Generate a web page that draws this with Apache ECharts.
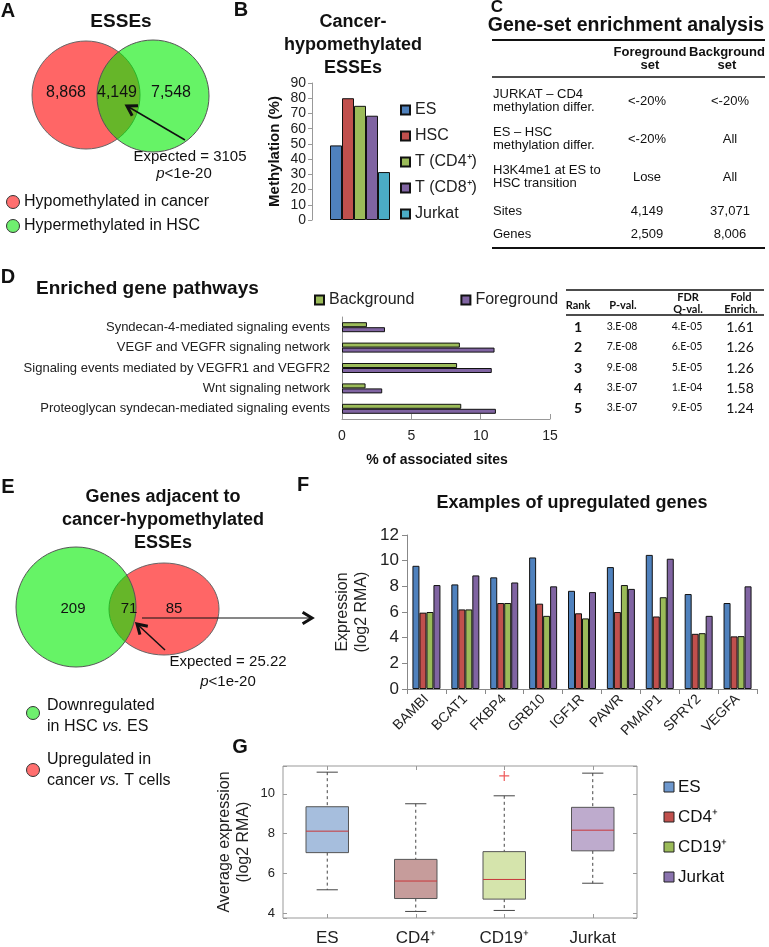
<!DOCTYPE html>
<html>
<head>
<meta charset="utf-8">
<script src="https://cdn.jsdelivr.net/npm/echarts@6/dist/echarts.min.js"></script>
<style>
  html, body { margin: 0; padding: 0; background: #fff; }
  #chart { width: 769px; height: 947px; }
</style>
</head>
<body>
<div id="chart"></div>
<script>
// ---- A: ESSE venn
const vennACounts = ['8,868', '4,149', '7,548'];
const vennALegend = ['Hypomethylated in cancer', 'Hypermethylated in HSC'];

// ---- B: methylation of cancer-hypomethylated ESSEs
const methylGroups = ['ES', 'HSC', 'T (CD4\u207A)', 'T (CD8\u207A)', 'Jurkat'];
const methylValues = [49, 80, 75, 68.5, 31.5];

// ---- C: gene-set enrichment table
const gseaRows = ['JURKAT \u2013 CD4\nmethylation differ.', 'ES \u2013 HSC\nmethylation differ.', 'H3K4me1 at ES to\nHSC transition', 'Sites', 'Genes'];
const gseaForeground = ['<-20%', '<-20%', 'Lose', '4,149', '2,509'];
const gseaBackground = ['<-20%', 'All', 'All', '37,071', '8,006'];

// ---- D: enriched pathways
const pathways = [
  'Syndecan-4-mediated signaling events',
  'VEGF and VEGFR signaling network',
  'Signaling events mediated by VEGFR1 and VEGFR2',
  'Wnt signaling network',
  'Proteoglycan syndecan-mediated signaling events'
];
const pathBackground = [1.8, 8.5, 8.3, 1.7, 8.6];
const pathForeground = [3.1, 11.0, 10.8, 2.9, 11.1];
const pathPval = ['3.E-08', '7.E-08', '9.E-08', '3.E-07', '3.E-07'];
const pathQval = ['4.E-05', '6.E-05', '5.E-05', '1.E-04', '9.E-05'];
const pathFold = ['1.61', '1.26', '1.26', '1.58', '1.24'];

// ---- E: genes venn
const vennECounts = ['209', '71', '85'];

// ---- F: upregulated genes
const genes = ['BAMBI', 'BCAT1', 'FKBP4', 'GRB10', 'IGF1R', 'PAWR', 'PMAIP1', 'SPRY2', 'VEGFA'];
const exprES = [9.6, 8.15, 8.7, 10.25, 7.65, 9.5, 10.45, 7.4, 6.7];
const exprCD4 = [5.95, 6.2, 6.7, 6.65, 5.9, 6.0, 5.65, 4.3, 4.1];
const exprCD19 = [6.0, 6.2, 6.7, 5.7, 5.5, 8.1, 7.15, 4.35, 4.12];
const exprJurkat = [8.1, 8.85, 8.3, 8.0, 7.55, 7.8, 10.15, 5.7, 8.0];

// ---- G: average expression boxplot  [low, q1, median, q3, high]
const boxGroups = ['ES', 'CD4\u207A', 'CD19\u207A', 'Jurkat'];
const boxStats = [
  [5.17, 7.04, 8.12, 9.35, 11.09],
  [4.08, 4.73, 5.61, 6.7, 9.5],
  [4.13, 4.7, 5.69, 7.09, 9.9],
  [5.5, 7.13, 8.17, 9.32, 11.04]
];
const boxOutliers = [[2, 10.9]];

const FONT = '"Liberation Sans", Arial, sans-serif';
const CAL = 'Lato, "Liberation Sans", sans-serif';
const officeColors = ['#4F81BD', '#C0504D', '#9BBB59', '#8064A2', '#4BACC6'];
const boxFill = ['#A6BEDD', '#C69C9B', '#D5E4AC', '#BEABCD'];
const boxLegendColors = ['#6E98CE', '#C0504D', '#9BBB59', '#8A73AE'];

const chart = echarts.init(document.getElementById('chart'), null, { renderer: 'canvas' });

// small helpers for the annotation layer
function txt(x, y, text, size, opts) {
  opts = opts || {};
  return {
    type: 'text', x: x, y: y, z: 100,
    style: {
      text: text,
      fill: opts.fill || '#111',
      font: (opts.weight || 'normal') + ' ' + (opts.style || 'normal') + ' ' + size + 'px ' + (opts.family || FONT),
      fontSize: size, fontWeight: opts.weight || 'normal', fontStyle: opts.style || 'normal',
      fontFamily: opts.family || FONT,
      textAlign: opts.align || 'left', align: opts.align || 'left',
      textVerticalAlign: 'middle', verticalAlign: 'middle',
      lineHeight: opts.lh || Math.round(size * 1.2)
    }
  };
}
function ln(x1, y1, x2, y2, w, col) {
  return { type: 'line', z: 100, shape: { x1: x1, y1: y1, x2: x2, y2: y2 }, style: { stroke: col || '#111', lineWidth: w || 1 } };
}
function arrow(x1, y1, x2, y2, w) {
  const a = Math.atan2(y2 - y1, x2 - x1), L = 11, s = 0.55;
  return [
    ln(x1, y1, x2, y2, w || 1.5),
    { type: 'polyline', z: 100, shape: { points: [
      [x2 - L * Math.cos(a - s), y2 - L * Math.sin(a - s)], [x2, y2],
      [x2 - L * Math.cos(a + s), y2 - L * Math.sin(a + s)]] },
      style: { stroke: '#111', lineWidth: 3, fill: null } }
  ];
}
function venn(red, green) {
  return [
    { type: 'ellipse', z: 10, shape: red, style: { fill: '#FF6666', stroke: '#666', lineWidth: 1 } },
    { type: 'ellipse', z: 11, shape: green, style: { fill: 'rgba(0,235,0,0.6)', stroke: '#555', lineWidth: 1 } }
  ];
}
function dot(x, y, col) {
  return { type: 'circle', z: 100, shape: { cx: x, cy: y, r: 6.5 }, style: { fill: col, stroke: '#333', lineWidth: 1 } };
}
function pText(x, y, size) {
  return { type: 'text', x: x, y: y, z: 100, style: {
    rich: { i: { fontStyle: 'italic', fontSize: size, fontFamily: FONT }, n: { fontSize: size, fontFamily: FONT } },
    text: '{i|p}{n|<1e-20}', fill: '#111', align: 'center', textAlign: 'center', verticalAlign: 'middle', textVerticalAlign: 'middle' } };
}

const gfx = [];
// panel letters
[['A', 8, 11, 20], ['B', 241, 10, 20], ['C', 497, 7, 17], ['D', 8, 277, 20], ['E', 8, 487, 20], ['F', 303, 485, 20], ['G', 240, 747, 20]]
  .forEach(p => gfx.push(txt(p[1], p[2], p[0], p[3], { weight: 'bold', align: 'center' })));

// A
gfx.push(txt(121, 22, 'ESSEs', 19, { weight: 'bold', align: 'center' }));
gfx.push(...venn({ cx: 86, cy: 95, rx: 54, ry: 54 }, { cx: 153, cy: 96, rx: 56, ry: 56 }));
gfx.push(txt(66, 93, vennACounts[0], 16, { align: 'center' }));
gfx.push(txt(117, 93, vennACounts[1], 16, { align: 'center' }));
gfx.push(txt(171, 93, vennACounts[2], 16, { align: 'center' }));
gfx.push(...arrow(185, 140, 127, 106));
gfx.push(txt(190, 157, 'Expected = 3105', 15, { align: 'center' }));
gfx.push(pText(184, 174, 15));
gfx.push(dot(13, 202, '#FF6F6F'), txt(24, 202, vennALegend[0], 16));
gfx.push(dot(13, 226, '#6FEF6F'), txt(24, 226, vennALegend[1], 16));

// B title
gfx.push(txt(353, 45, 'Cancer-\nhypomethylated\nESSEs', 18, { weight: 'bold', align: 'center', lh: 23 }));

// C table
gfx.push(txt(626, 26, 'Gene-set enrichment analysis', 19.5, { weight: 'bold', align: 'center' }));
gfx.push(ln(492, 40, 765, 40, 2), ln(492, 77, 765, 77, 1.5), ln(492, 248, 765, 248, 2));
gfx.push(txt(650, 59, 'Foreground\nset', 13, { weight: 'bold', align: 'center', lh: 13 }));
gfx.push(txt(727, 59, 'Background\nset', 13, { weight: 'bold', align: 'center', lh: 13 }));
const gseaY = [101, 139, 177, 211, 234];
gseaRows.forEach((r, i) => {
  gfx.push(txt(493, gseaY[i], r, 13, { lh: 13 }));
  gfx.push(txt(647, gseaY[i], gseaForeground[i], 13, { align: 'center' }));
  gfx.push(txt(730, gseaY[i], gseaBackground[i], 13, { align: 'center' }));
});

// D title + rank table
gfx.push(txt(36, 289, 'Enriched gene pathways', 19, { weight: 'bold' }));
gfx.push(ln(566, 290, 764, 290, 1.5), ln(566, 315, 764, 315, 1.5));
gfx.push(txt(578, 305, 'Rank', 11, { weight: 'bold', align: 'center', family: CAL }));
gfx.push(txt(623, 305, 'P-val.', 11, { weight: 'bold', align: 'center', family: CAL }));
gfx.push(txt(688, 303, 'FDR\nQ-val.', 11, { weight: 'bold', align: 'center', family: CAL, lh: 12 }));
gfx.push(txt(741, 303, 'Fold\nEnrich.', 11, { weight: 'bold', align: 'center', family: CAL, lh: 12 }));
const rankY = [327, 347, 368, 388, 408];
pathPval.forEach((p, i) => {
  gfx.push(txt(578, rankY[i], String(i + 1), 14, { weight: 'bold', align: 'center', family: CAL }));
  gfx.push(txt(622, rankY[i], p, 10.5, { align: 'center', family: CAL }));
  gfx.push(txt(687, rankY[i], pathQval[i], 10.5, { align: 'center', family: CAL }));
  gfx.push(txt(740, rankY[i], pathFold[i], 14, { align: 'center', family: CAL }));
});

// E
gfx.push(txt(163, 520, 'Genes adjacent to\ncancer-hypomethylated\nESSEs', 18, { weight: 'bold', align: 'center', lh: 23 }));
gfx.push(...venn({ cx: 164, cy: 609, rx: 55, ry: 46 }, { cx: 76, cy: 607, rx: 60, ry: 60 }));
gfx.push(txt(73, 609, vennECounts[0], 15, { align: 'center' }));
gfx.push(txt(129, 609, vennECounts[1], 15, { align: 'center' }));
gfx.push(txt(174, 609, vennECounts[2], 15, { align: 'center' }));
gfx.push(...arrow(165, 650, 137, 624));
gfx.push(...arrow(142, 618, 312, 618, 1.2));
gfx.push(txt(228, 662, 'Expected = 25.22', 15, { align: 'center' }));
gfx.push(pText(228, 682, 15));
const richE = { i: { fontStyle: 'italic', fontSize: 16, fontFamily: FONT }, n: { fontSize: 16, fontFamily: FONT } };
gfx.push(dot(33, 713, '#6FEF6F'));
gfx.push({ type: 'text', x: 47, y: 716, z: 100, style: { rich: richE, text: '{n|Downregulated}\n{n|in HSC }{i|vs.}{n| ES}', fill: '#111', lineHeight: 21, verticalAlign: 'middle', textVerticalAlign: 'middle' } });
gfx.push(dot(33, 770, '#FF6F6F'));
gfx.push({ type: 'text', x: 47, y: 770, z: 100, style: { rich: richE, text: '{n|Upregulated in}\n{n|cancer }{i|vs.}{n| T cells}', fill: '#111', lineHeight: 21, verticalAlign: 'middle', textVerticalAlign: 'middle' } });

// F title
gfx.push(txt(572, 503, 'Examples of upregulated genes', 18, { weight: 'bold', align: 'center' }));

// G legend
boxGroups.forEach((g, i) => {
  const y = 787 + i * 30;
  gfx.push({ type: 'rect', z: 100, shape: { x: 664, y: y - 5, width: 10, height: 10 }, style: { fill: boxLegendColors[i], stroke: '#222', lineWidth: 1 } });
  gfx.push(txt(678, y, g, 17));
});

// custom box renderer for panel G
function renderBox(params, api) {
  const i = api.value(0);
  const p = k => api.coord([i, api.value(k)]);
  const lo = p(1), q1 = p(2), md = p(3), q3 = p(4), hi = p(5);
  const band = api.size([1, 0])[0];
  const bw = band * 0.48, cw = band * 0.24, cx = lo[0];
  const dash = { stroke: '#444', lineWidth: 1, lineDash: [3, 3] };
  const solid = { stroke: '#444', lineWidth: 1 };
  return { type: 'group', children: [
    { type: 'line', shape: { x1: cx, y1: hi[1], x2: cx, y2: q3[1] }, style: dash },
    { type: 'line', shape: { x1: cx, y1: q1[1], x2: cx, y2: lo[1] }, style: dash },
    { type: 'line', shape: { x1: cx - cw / 2, y1: hi[1], x2: cx + cw / 2, y2: hi[1] }, style: solid },
    { type: 'line', shape: { x1: cx - cw / 2, y1: lo[1], x2: cx + cw / 2, y2: lo[1] }, style: solid },
    { type: 'rect', shape: { x: cx - bw / 2, y: q3[1], width: bw, height: q1[1] - q3[1] }, style: { fill: boxFill[i], stroke: '#555', lineWidth: 1 } },
    { type: 'line', shape: { x1: cx - bw / 2, y1: md[1], x2: cx + bw / 2, y2: md[1] }, style: { stroke: '#C8373A', lineWidth: 1 } }
  ] };
}

const axisGray = { lineStyle: { color: '#888' } };
const lbl = (s) => ({ fontFamily: FONT, fontSize: s, color: '#222' });
const bordered = (c) => ({ color: c, borderColor: '#111', borderWidth: 1 });

const option = {
  animation: false,
  backgroundColor: '#fff',
  textStyle: { fontFamily: FONT },
  legend: [
    { data: methylGroups, orient: 'vertical', left: 395, top: 97, itemWidth: 9, itemHeight: 9, itemGap: 10,
      textStyle: lbl(16), icon: 'rect', selectedMode: false },
    { data: ['Background', 'Foreground'], left: 309, top: 287, itemWidth: 9, itemHeight: 9, itemGap: 46,
      textStyle: lbl(16), icon: 'rect', selectedMode: false }
  ],
  grid: [
    { left: 312, top: 83, width: 96, height: 137 },
    { left: 342, top: 317, width: 208, height: 102 },
    { left: 407, top: 535, width: 350, height: 154 },
    { left: 283, top: 766, width: 354, height: 162, show: true, borderColor: '#999', borderWidth: 1 }
  ],
  xAxis: [
    { gridIndex: 0, type: 'category', data: [''], show: false },
    { gridIndex: 1, type: 'value', min: 0, max: 15, interval: 5,
      axisLine: { show: true, lineStyle: { color: '#999' } }, axisTick: { show: true, inside: true, length: 5, lineStyle: { color: '#999' } },
      splitLine: { show: false }, axisLabel: Object.assign(lbl(14), { margin: 10 }),
      name: '% of associated sites', nameLocation: 'middle', nameGap: 34,
      nameTextStyle: { fontFamily: FONT, fontSize: 14, fontWeight: 'bold', color: '#111', padding: [0, 18, 0, 0] } },
    { gridIndex: 2, type: 'category', data: genes,
      axisLine: axisGray, axisTick: { show: true, length: 5, lineStyle: { color: '#888' } },
      axisLabel: Object.assign(lbl(14), { rotate: 45, margin: 8, interval: 0 }) },
    { gridIndex: 3, type: 'category', data: boxGroups, position: 'bottom',
      axisLine: { show: false }, axisTick: { show: true, inside: true, alignWithLabel: true, length: 4, lineStyle: { color: '#999' } },
      axisLabel: Object.assign(lbl(17), { margin: 12 }) },
    { gridIndex: 3, type: 'category', data: boxGroups, position: 'top',
      axisLine: { show: false }, axisTick: { show: true, inside: true, alignWithLabel: true, length: 4, lineStyle: { color: '#999' } },
      axisLabel: { show: false } }
  ],
  yAxis: [
    { gridIndex: 0, type: 'value', min: 0, max: 90, interval: 10,
      axisLine: { show: true, lineStyle: { color: '#999' } }, axisTick: { show: true, length: 4, lineStyle: { color: '#999' } },
      splitLine: { show: false }, axisLabel: Object.assign(lbl(14), { margin: 6 }),
      name: 'Methylation (%)', nameLocation: 'middle', nameGap: 30,
      nameTextStyle: { fontFamily: FONT, fontSize: 15, fontWeight: 'bold', color: '#111' } },
    { gridIndex: 1, type: 'category', data: pathways, inverse: true,
      axisLine: { show: true, lineStyle: { color: '#999' } }, axisTick: { show: false },
      axisLabel: Object.assign(lbl(13), { margin: 12 }) },
    { gridIndex: 2, type: 'value', min: 0, max: 12, interval: 2,
      axisLine: { show: true, lineStyle: { color: '#888' } }, axisTick: { show: true, length: 5, lineStyle: { color: '#888' } },
      splitLine: { show: false }, axisLabel: Object.assign(lbl(17), { margin: 8 }),
      name: 'Expression\n(log2 RMA)', nameLocation: 'middle', nameGap: 36,
      nameTextStyle: { fontFamily: FONT, fontSize: 16, color: '#222', lineHeight: 19 } },
    { gridIndex: 3, type: 'value', min: 3.75, max: 11.4,
      axisLine: { show: false }, axisTick: { show: true, inside: true, length: 4, lineStyle: { color: '#999' } },
      splitLine: { show: false },
      axisLabel: Object.assign(lbl(13), { margin: 8, formatter: v => (v % 2 === 0 ? String(v) : '') }),
      name: 'Average expression\n(log2 RMA)', nameLocation: 'middle', nameGap: 30,
      nameTextStyle: { fontFamily: FONT, fontSize: 16, color: '#222', lineHeight: 19 } },
    { gridIndex: 3, type: 'value', min: 3.75, max: 11.4, position: 'right',
      axisLine: { show: false }, axisTick: { show: true, inside: true, length: 4, lineStyle: { color: '#999' } },
      splitLine: { show: false }, axisLabel: { show: false } }
  ],
  series: [
    ...methylGroups.map((g, i) => ({
      name: g, type: 'bar', xAxisIndex: 0, yAxisIndex: 0, barWidth: 12, barGap: '0%',
      itemStyle: bordered(officeColors[i]), data: [methylValues[i]]
    })),
    { name: 'Background', type: 'bar', xAxisIndex: 1, yAxisIndex: 1, barWidth: 5, barGap: '0%',
      itemStyle: bordered('#9BBB59'), data: pathBackground },
    { name: 'Foreground', type: 'bar', xAxisIndex: 1, yAxisIndex: 1, barWidth: 5, barGap: '0%',
      itemStyle: bordered('#8064A2'), data: pathForeground },
    ...[exprES, exprCD4, exprCD19, exprJurkat].map((d, i) => ({
      name: 'expr-' + i, type: 'bar', xAxisIndex: 2, yAxisIndex: 2, barWidth: 7, barGap: '0%',
      itemStyle: bordered(officeColors[i]), data: d
    })),
    { name: 'box', type: 'custom', xAxisIndex: 3, yAxisIndex: 3, renderItem: renderBox,
      encode: { x: 0, y: [1, 2, 3, 4, 5] }, data: boxStats.map((s, i) => [i].concat(s)) },
    { name: 'outlier', type: 'scatter', xAxisIndex: 3, yAxisIndex: 3, symbol: 'path://M4.4,0h1.2v10h-1.2z M0,4.4h10v1.2h-10z',
      symbolSize: 10, itemStyle: { color: '#E8302F' }, data: boxOutliers }
  ],
  graphic: gfx
};

chart.setOption(option);
</script>
</body>
</html>
